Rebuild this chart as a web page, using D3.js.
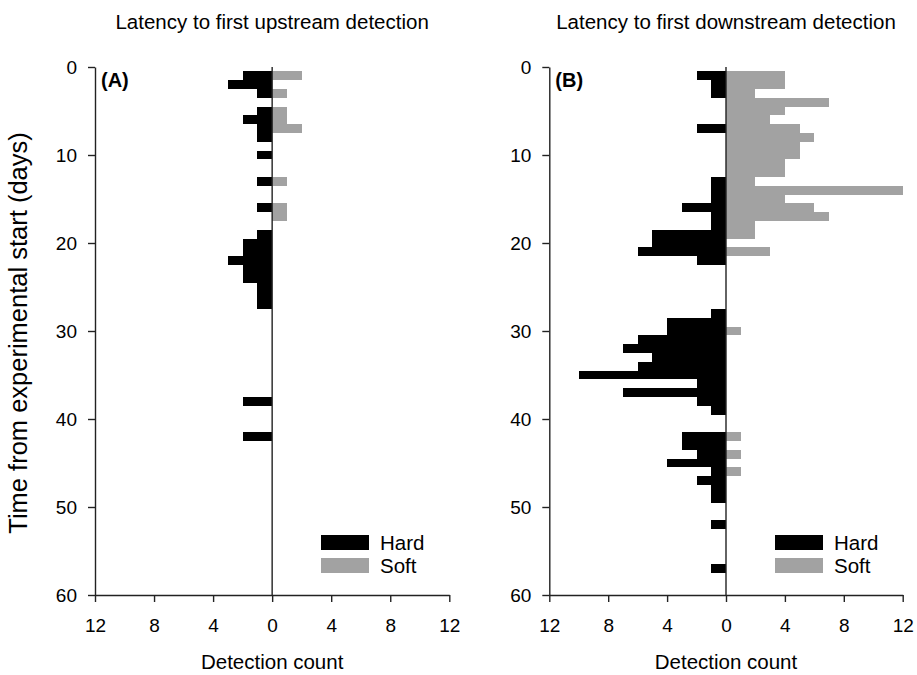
<!DOCTYPE html>
<html>
<head>
<meta charset="utf-8">
<script src="https://cdn.jsdelivr.net/npm/d3@7"></script>
<style>
  body { margin: 0; background: #fff; }
  svg { display: block; }
  text { font-family: "Liberation Sans", Arial, sans-serif; fill: #000; }
</style>
</head>
<body>
<div id="chart"></div>
<script>
(function (d3) {
    "use strict";

    /***** Données (jour 1 à 60) *****/

    const days = d3.range(1, 61);

    // Panneau A : première détection amont
    const upHard = [2, 3, 1, 0, 1, 2, 1, 1, 0, 1,
                    0, 0, 1, 0, 0, 1, 0, 0, 1, 2,
                    2, 3, 2, 2, 1, 1, 1, 0, 0, 0,
                    0, 0, 0, 0, 0, 0, 0, 2, 0, 0,
                    0, 2, 0, 0, 0, 0, 0, 0, 0, 0,
                    0, 0, 0, 0, 0, 0, 0, 0, 0, 0];
    const upSoft = [2, 0, 1, 0, 1, 1, 2, 0, 0, 0,
                    0, 0, 1, 0, 0, 1, 1, 0, 0, 0,
                    0, 0, 0, 0, 0, 0, 0, 0, 0, 0,
                    0, 0, 0, 0, 0, 0, 0, 0, 0, 0,
                    0, 0, 0, 0, 0, 0, 0, 0, 0, 0,
                    0, 0, 0, 0, 0, 0, 0, 0, 0, 0];

    // Panneau B : première détection aval
    const downHard = [2, 1, 1, 0, 0, 0, 2, 0, 0, 0,
                      0, 0, 1, 1, 1, 3, 1, 1, 5, 5,
                      6, 2, 0, 0, 0, 0, 0, 1, 4, 4,
                      6, 7, 5, 6, 10, 2, 7, 2, 1, 0,
                      0, 3, 3, 2, 4, 1, 2, 1, 1, 0,
                      0, 1, 0, 0, 0, 0, 1, 0, 0, 0];
    const downSoft = [4, 4, 2, 7, 4, 3, 5, 6, 5, 5,
                      4, 4, 2, 12, 4, 6, 7, 2, 2, 0,
                      3, 0, 0, 0, 0, 0, 0, 0, 0, 1,
                      0, 0, 0, 0, 0, 0, 0, 0, 0, 0,
                      0, 1, 0, 1, 0, 1, 0, 0, 0, 0,
                      0, 0, 0, 0, 0, 0, 0, 0, 0, 0];

    const countTicks = [-12, -8, -4, 0, 4, 8, 12];
    const dayTicks = [0, 10, 20, 30, 40, 50, 60];
    const seriesNames = ["Hard", "Soft"];
    const seriesColors = ["#000000", "#a2a2a2"];

    /***** Configuration *****/

    const width = 917, height = 675;
    const plotTop = 67, plotBottom = 595;

    const svg = d3.select("#chart").append("svg")
        .attr("width", width)
        .attr("height", height);

    var y = d3.scaleLinear().domain([0, 60]).range([plotTop, plotBottom]);

    svg.append("text")
        .attr("transform", "translate(27," + ((plotTop + plotBottom) / 2 + 2) + ") rotate(-90)")
        .attr("text-anchor", "middle")
        .style("font-size", "25.5px")
        .text("Time from experimental start (days)");

    function drawPanel(left, right, hard, soft, title, tag, legendX) {
        var x = d3.scaleLinear().domain([-12, 12]).range([left, right]);
        var g = svg.append("g");

        // barres : dures vers la gauche, souples vers la droite
        [hard, soft].forEach(function (vals, i) {
            var rows = days.map((d, k) => ({ day: d, n: vals[k] })).filter(r => r.n > 0);
            g.selectAll(null).data(rows).enter().append("rect")
                .attr("x", r => i === 0 ? x(-r.n) : x(0))
                .attr("width", r => i === 0 ? x(0) - x(-r.n) : x(r.n) - x(0))
                .attr("y", r => y(r.day - 0.5))
                .attr("height", r => y(r.day + 0.5) - y(r.day - 0.5))
                .attr("fill", seriesColors[i])
                .attr("shape-rendering", "crispEdges");
        });

        // ligne du zéro
        g.append("line")
            .attr("x1", x(0)).attr("x2", x(0))
            .attr("y1", y(0)).attr("y2", y(60))
            .attr("stroke", "#222").attr("stroke-width", 1.4);

        var yAxis = g.append("g")
            .attr("transform", "translate(" + left + ",0)")
            .call(d3.axisLeft(y).tickValues(dayTicks).tickSize(7).tickSizeOuter(0).tickPadding(11));

        var xAxis = g.append("g")
            .attr("transform", "translate(0," + plotBottom + ")")
            .call(d3.axisBottom(x).tickValues(countTicks).tickSize(7).tickSizeOuter(0).tickPadding(17)
                .tickFormat(v => Math.abs(v)));

        [yAxis, xAxis].forEach(function (a) {
            a.selectAll("path, line").attr("stroke", "#222").attr("stroke-width", 1.4);
            a.selectAll("text").style("font-size", "19px")
                .style("font-family", "'Liberation Sans', Arial, sans-serif");
        });

        g.append("text")
            .attr("x", x(0)).attr("y", 29)
            .attr("text-anchor", "middle")
            .style("font-size", "20.5px")
            .text(title);

        g.append("text")
            .attr("x", left + 6).attr("y", 87)
            .style("font-size", "20px").style("font-weight", "bold")
            .text(tag);

        g.append("text")
            .attr("x", x(0)).attr("y", 669)
            .attr("text-anchor", "middle")
            .style("font-size", "20.5px")
            .text("Detection count");

        // légende
        seriesNames.forEach(function (name, i) {
            g.append("rect")
                .attr("x", legendX).attr("y", 535 + i * 23)
                .attr("width", 48).attr("height", 15)
                .attr("fill", seriesColors[i]);
            g.append("text")
                .attr("x", legendX + 59).attr("y", 550 + i * 23)
                .style("font-size", "20.5px")
                .text(name);
        });
    }

    drawPanel(95, 449.3, upHard, upSoft, "Latency to first upstream detection", "(A)", 321);
    drawPanel(549.3, 902.7, downHard, downSoft, "Latency to first downstream detection", "(B)", 775);

})(d3);
</script>
</body>
</html>
